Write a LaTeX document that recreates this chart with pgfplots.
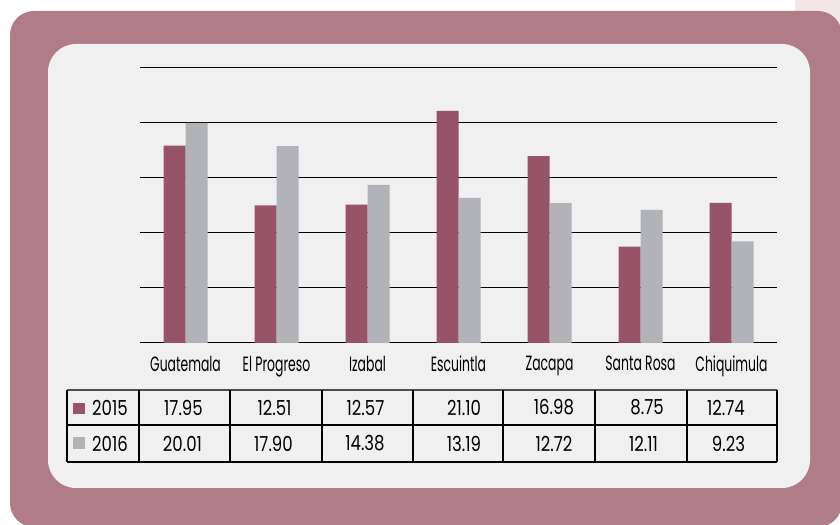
\documentclass[border=0pt]{standalone}
\usepackage{pgfplots}
\pgfplotsset{compat=1.18}
\usepackage{fontspec}
\setmainfont[FakeStretch=0.8]{Poppins}
\newfontfamily\labfont[FakeStretch=0.6]{Poppins}

\definecolor{frame}{HTML}{B07C87}
\definecolor{panel}{HTML}{F0F0F0}
\definecolor{yrA}{HTML}{975468}
\definecolor{yrB}{HTML}{B1B3B6}
\definecolor{faint}{HTML}{F2E6E9}

\begin{document}
\begin{tikzpicture}[x=0.75pt, y=0.75pt, font=\fontsize{15.5}{18}\selectfont]
  \useasboundingbox (0,0) rectangle (840,525);
  \clip (0,0) rectangle (840,525);
  \fill[white] (0,0) rectangle (840,525);
  \fill[faint] (795,525) rectangle (840,495);
  \fill[frame, rounded corners=18pt] (10,514) rectangle (842,-2);
  \fill[panel, rounded corners=21pt] (48,481) rectangle (810,37);

  \begin{axis}[
      at={(105pt,136.5pt)}, anchor=south west,
      scale only axis,
      width=477.75pt, height=206.25pt,
      ybar=0pt, bar width=16.5pt,
      xmin=-0.5, xmax=6.5,
      ymin=0, ymax=25,
      ytick={0,5,...,25}, yticklabels={},
      xtick=data,
      xticklabels={Guatemala, El Progreso, Izabal, Escuintla, Zacapa, Santa Rosa, Chiquimula},
      x tick label style={font=\labfont\fontsize{15.5}{18}\selectfont, yshift=-6pt},
      major tick length=0pt,
      axis line style={draw=none},
      ymajorgrids,
      grid style={black, line width=0.75pt},
      clip=false,
    ]
    % 2015
    \addplot[fill=yrA, draw=none] coordinates {
      (0,17.95) (1,12.51) (2,12.57) (3,21.10) (4,16.98) (5,8.75) (6,12.74)};
    % 2016
    \addplot[fill=yrB, draw=none] coordinates {
      (0,20.01) (1,17.90) (2,14.38) (3,13.19) (4,12.72) (5,12.11) (6,9.23)};
  \end{axis}

  % data table
  \draw[black!70, line width=0.8pt] (67,135) -- (777,135);
  \draw[black, line width=0.8pt] (67,100) -- (777,100);
  \draw[black, line width=0.8pt] (67,63) -- (777,63);
  \foreach \xx in {67,139,230,322,413,503,595,687,777}
    \draw[black, line width=1pt] (\xx,135) -- (\xx,63);

  \fill[yrA] (73,122) rectangle (85,111);
  \fill[yrB] (73,88) rectangle (85,76);
  \node at (110,117.5) {2015};
  \node at (110,81.5) {2016};

  \foreach \xx/\v in {183.5/17.95, 274.5/12.51, 365.5/12.57, 464/21.10, 554/16.98, 647/8.75, 726/12.74}
    \node at (\xx,117.5) {\v};
  \foreach \xx/\v in {182.5/20.01, 273.5/17.90, 365/14.38, 464/13.19, 554/12.72, 643.5/12.11, 728.5/9.23}
    \node at (\xx,81.5) {\v};
\end{tikzpicture}
\end{document}
